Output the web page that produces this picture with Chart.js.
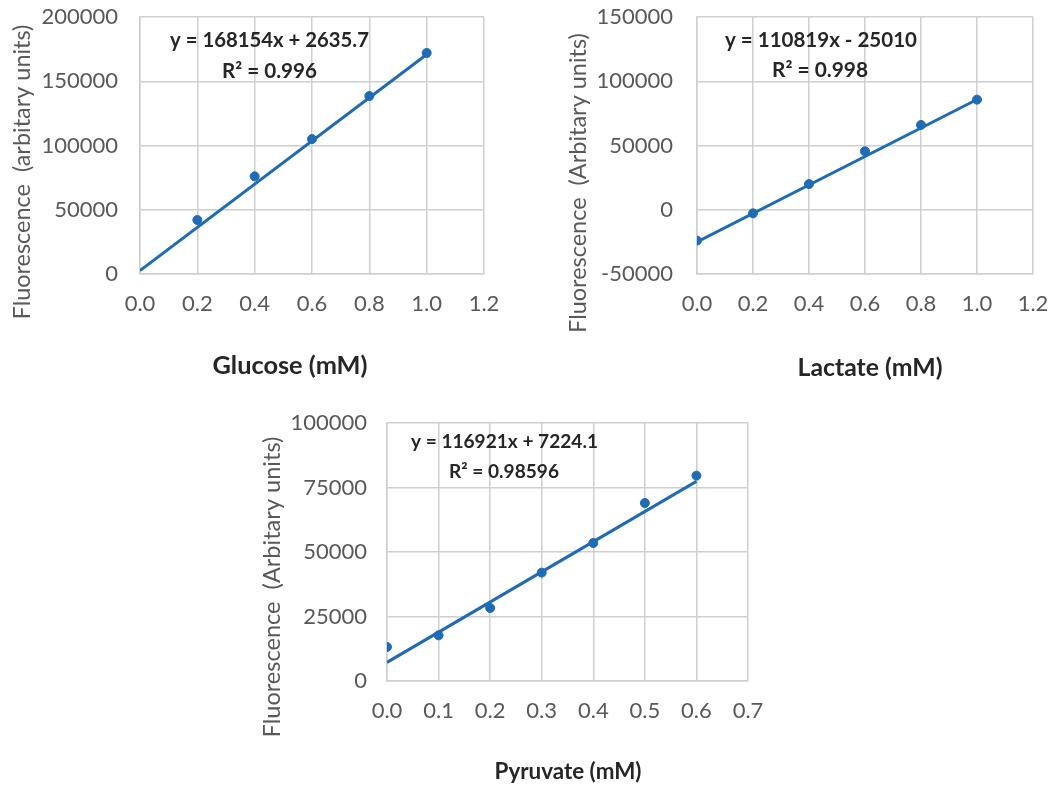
<!DOCTYPE html>
<html>
<head>
<meta charset="utf-8">
<script src="https://cdn.jsdelivr.net/npm/chart.js@4.4.1/dist/chart.umd.min.js"></script>
<style>
  body { margin: 0; background: #fff; width: 1051px; height: 785px; position: relative; overflow: hidden; }
  .box { position: absolute; }
</style>
</head>
<body>
<div class="box" style="left:0;top:0;width:520px;height:400px"><canvas id="glucoseChart"></canvas></div>
<div class="box" style="left:540px;top:0;width:511px;height:400px"><canvas id="lactateChart"></canvas></div>
<div class="box" style="left:250px;top:400px;width:560px;height:385px"><canvas id="pyruvateChart"></canvas></div>
<script>
// Glucose standard
const glucoseX = [0.2, 0.4, 0.6, 0.8, 1.0];
const glucoseY = [42000, 76000, 105000, 138500, 172000];
const glucoseTrendX = [0, 1.0];
const glucoseTrendY = [2636, 170790];
const glucoseXTicks = [0, 0.2, 0.4, 0.6, 0.8, 1.0, 1.2];
const glucoseYTicks = [0, 50000, 100000, 150000, 200000];

// Lactate standard
const lactateX = [0, 0.2, 0.4, 0.6, 0.8, 1.0];
const lactateY = [-24000, -2800, 20000, 45500, 66000, 85700];
const lactateTrendX = [0, 1.0];
const lactateTrendY = [-25010, 85809];
const lactateXTicks = [0, 0.2, 0.4, 0.6, 0.8, 1.0, 1.2];
const lactateYTicks = [-50000, 0, 50000, 100000, 150000];

// Pyruvate standard
const pyruvateX = [0, 0.1, 0.2, 0.3, 0.4, 0.5, 0.6];
const pyruvateY = [13200, 17700, 28300, 42000, 53500, 69000, 79600];
const pyruvateTrendX = [0, 0.6];
const pyruvateTrendY = [7224, 77377];
const pyruvateXTicks = [0, 0.1, 0.2, 0.3, 0.4, 0.5, 0.6, 0.7];
const pyruvateYTicks = [0, 25000, 50000, 75000, 100000];

const azul = '#1f6cb5';
const gris = '#595959';
const rejilla = '#cfcfcf';
const fuente = 'Lato, "Open Sans", sans-serif';

// textos libres (ecuacion, R2, titulos de ejes) en pixeles del canvas
const textosPlugin = {
    id: 'textos',
    afterDraw(chart) {
        const ctx = chart.ctx;
        (chart.options.plugins.textos.items || []).forEach(function(t) {
            ctx.save();
            let size = t.size;
            ctx.font = (t.bold ? 'bold ' : '') + size + 'px ' + fuente;
            if (t.width) {
                size = size * t.width / ctx.measureText(t.text).width;
                ctx.font = (t.bold ? 'bold ' : '') + size + 'px ' + fuente;
            }
            ctx.fillStyle = t.color;
            ctx.textAlign = 'center';
            ctx.textBaseline = 'middle';
            ctx.translate(t.x, t.y);
            if (t.rot) ctx.rotate(-Math.PI / 2);
            ctx.fillText(t.text, 0, 0);
            ctx.restore();
        });
    }
};

function pares(xs, ys) {
    return xs.map(function(x, i) { return { x: x, y: ys[i] }; });
}

function crearGrafico(id, cfg) {
    const ctx = document.getElementById(id).getContext('2d');
    return new Chart(ctx, {
        type: 'scatter',
        data: {
            datasets: [{
                type: 'line',
                data: pares(cfg.trendX, cfg.trendY),
                borderColor: azul,
                borderWidth: 3,
                pointRadius: 0,
                fill: false,
                order: 0
            }, {
                data: pares(cfg.x, cfg.y),
                backgroundColor: azul,
                borderColor: azul,
                pointRadius: 4.5,
                pointHoverRadius: 4.5,
                order: 1
            }]
        },
        options: {
            responsive: true,
            maintainAspectRatio: false,
            animation: false,
            layout: { padding: cfg.padding },
            plugins: {
                legend: { display: false },
                tooltip: { enabled: false },
                textos: { items: cfg.textos }
            },
            scales: {
                x: {
                    type: 'linear',
                    min: cfg.xTicks[0],
                    max: cfg.xTicks[cfg.xTicks.length - 1],
                    afterBuildTicks: function(s) { s.ticks = cfg.xTicks.map(function(v) { return { value: v }; }); },
                    afterFit: function(s) {
                        s.height = cfg.xHeight;
                        s.paddingLeft = 0;
                        s.paddingRight = 0;
                    },
                    grid: { color: rejilla, lineWidth: 1.5, drawTicks: false },
                    border: { color: rejilla, width: 1.5 },
                    ticks: {
                        padding: cfg.xPad,
                        color: gris,
                        font: { family: fuente, size: 22 },
                        maxRotation: 0,
                        callback: function(v) { return v.toFixed(1); }
                    }
                },
                y: {
                    min: cfg.yTicks[0],
                    max: cfg.yTicks[cfg.yTicks.length - 1],
                    afterBuildTicks: function(s) { s.ticks = cfg.yTicks.map(function(v) { return { value: v }; }); },
                    afterFit: function(s) {
                        s.width = cfg.yWidth;
                        s.paddingTop = 0;
                        s.paddingBottom = 0;
                    },
                    grid: { color: rejilla, lineWidth: 1.5, drawTicks: false },
                    border: { color: rejilla, width: 1.5 },
                    ticks: {
                        padding: cfg.yPad,
                        color: gris,
                        font: { family: fuente, size: 22 },
                        callback: function(v) { return String(v); }
                    }
                }
            }
        },
        plugins: [textosPlugin]
    });
}

const glucoseChart = crearGrafico('glucoseChart', {
    x: glucoseX, y: glucoseY, trendX: glucoseTrendX, trendY: glucoseTrendY,
    xTicks: glucoseXTicks, yTicks: glucoseYTicks,
    padding: { top: 17, right: 36, left: 0, bottom: 0 },
    yWidth: 140, xHeight: 126, xPad: 17, yPad: 22,
    textos: [
        { text: 'y = 168154x + 2635.7', x: 269.5, y: 40, size: 19, width: 199, bold: true, color: '#262626' },
        { text: 'R² = 0.996', x: 269.5, y: 71, size: 19, width: 95, bold: true, color: '#262626' },
        { text: 'Fluorescence  (arbitary units)', x: 22, y: 172, size: 20, width: 295, rot: true, color: gris },
        { text: 'Glucose (mM)', x: 290, y: 366, size: 20, width: 155, bold: true, color: '#262626' }
    ]
});

const lactateChart = crearGrafico('lactateChart', {
    x: lactateX, y: lactateY, trendX: lactateTrendX, trendY: lactateTrendY,
    xTicks: lactateXTicks, yTicks: lactateYTicks,
    padding: { top: 17, right: 18, left: 0, bottom: 0 },
    yWidth: 157, xHeight: 126, xPad: 17, yPad: 24,
    textos: [
        { text: 'y = 110819x - 25010', x: 281, y: 40, size: 19, width: 192, bold: true, color: '#262626' },
        { text: 'R² = 0.998', x: 280, y: 70, size: 19, width: 96, bold: true, color: '#262626' },
        { text: 'Fluorescence  (Arbitary units)', x: 38, y: 183, size: 20, width: 300, rot: true, color: gris },
        { text: 'Lactate (mM)', x: 330, y: 368, size: 20, width: 145, bold: true, color: '#262626' }
    ]
});

const pyruvateChart = crearGrafico('pyruvateChart', {
    x: pyruvateX, y: pyruvateY, trendX: pyruvateTrendX, trendY: pyruvateTrendY,
    xTicks: pyruvateXTicks, yTicks: pyruvateYTicks,
    padding: { top: 23, right: 62, left: 0, bottom: 0 },
    yWidth: 137, xHeight: 104, xPad: 17, yPad: 20,
    textos: [
        { text: 'y = 116921x + 7224.1', x: 254.5, y: 42, size: 19, width: 187, bold: true, color: '#262626' },
        { text: 'R² = 0.98596', x: 254, y: 72, size: 19, width: 110, bold: true, color: '#262626' },
        { text: 'Fluorescence  (Arbitary units)', x: 22, y: 187, size: 20, width: 301, rot: true, color: gris },
        { text: 'Pyruvate (mM)', x: 318, y: 372, size: 20, width: 147, bold: true, color: '#262626' }
    ]
});
</script>
</body>
</html>
